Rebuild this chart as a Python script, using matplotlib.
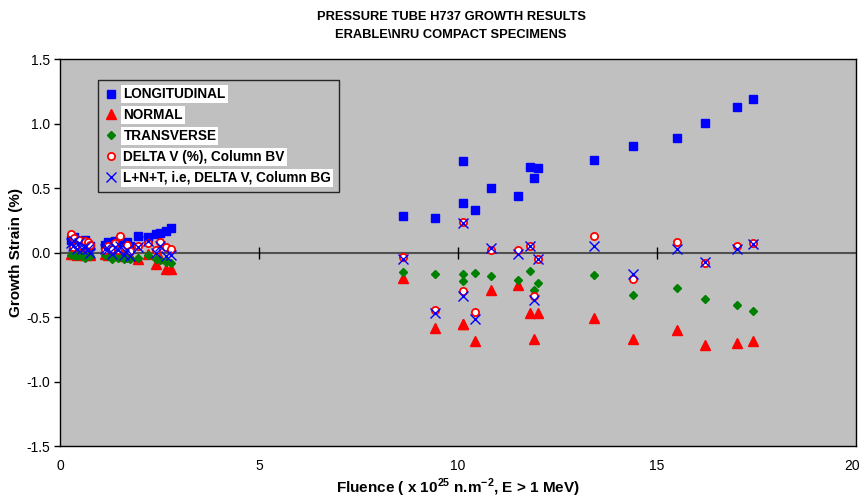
import matplotlib
matplotlib.use("Agg")
import matplotlib.pyplot as plt
from matplotlib.transforms import ScaledTranslation

plt.rcParams['font.family'] = ['Liberation Sans', 'DejaVu Sans']
plt.rcParams['mathtext.fontset'] = 'custom'
plt.rcParams['mathtext.rm'] = 'Liberation Sans'
plt.rcParams['mathtext.bf'] = 'Liberation Sans:bold'

# fluence (x 10^25 n/m2) per specimen
fluence = [0.28, 0.32, 0.36, 0.42, 0.48, 0.55, 0.62, 0.70, 0.75,
           1.12, 1.20, 1.30, 1.38, 1.45, 1.52, 1.60, 1.68, 1.75,
           1.96, 2.20, 2.40, 2.52, 2.66, 2.80,
           8.61, 9.42, 10.12, 10.12, 10.42, 10.82, 11.52, 11.81, 11.91, 12.02,
           13.41, 14.41, 15.51, 16.21, 17.01, 17.42]

longitudinal = [0.10, 0.06, 0.12, 0.08, 0.09, 0.07, 0.10, 0.06, 0.05,
                0.06, 0.08, 0.05, 0.09, 0.07, 0.10, 0.06, 0.08, 0.05,
                0.13, 0.12, 0.14, 0.15, 0.17, 0.19,
                0.285, 0.27, 0.71, 0.38, 0.326, 0.50, 0.44, 0.666, 0.577, 0.655,
                0.72, 0.826, 0.886, 1.005, 1.13, 1.19]

normal = [-0.01, 0.00, -0.01, -0.02, 0.00, -0.01, -0.02, -0.01, -0.02,
          -0.01, -0.02, -0.01, -0.02, -0.01, -0.02, -0.03, -0.02, -0.03,
          -0.05, -0.01, -0.09, -0.04, -0.13, -0.13,
          -0.197, -0.585, -0.554, -0.554, -0.686, -0.293, -0.25, -0.47, -0.668, -0.469,
          -0.507, -0.668, -0.598, -0.72, -0.70, -0.684]

transverse = [-0.02, -0.01, -0.02, -0.03, -0.02, -0.03, -0.04, -0.02, -0.03,
              -0.02, -0.03, -0.05, -0.03, -0.04, -0.03, -0.05, -0.04, -0.05,
              -0.04, -0.02, -0.05, -0.06, -0.07, -0.08,
              -0.153, -0.163, -0.163, -0.223, -0.155, -0.184, -0.21, -0.14, -0.293, -0.236,
              -0.176, -0.33, -0.275, -0.36, -0.41, -0.45]

delta_v_bv = [0.14, 0.04, 0.11, 0.06, 0.10, 0.05, 0.09, 0.08, 0.06,
              0.02, 0.05, 0.03, 0.07, 0.02, 0.13, 0.04, 0.06, 0.01,
              0.05, 0.07, 0.02, 0.08, 0.04, 0.03,
              -0.034, -0.443, 0.236, -0.30, -0.46, 0.02, 0.02, 0.054, -0.336, -0.049,
              0.13, -0.205, 0.08, -0.08, 0.049, 0.075]

lnt_bg = [0.07, 0.05, 0.09, 0.03, 0.07, 0.03, 0.04, 0.03, 0.00,
          0.03, 0.03, -0.01, 0.04, 0.02, 0.05, -0.02, 0.02, -0.03,
          0.04, 0.09, 0.00, 0.05, -0.03, -0.02,
          -0.049, -0.47, 0.225, -0.34, -0.515, 0.033, -0.008, 0.054, -0.37, -0.049,
          0.049, -0.163, 0.029, -0.075, 0.031, 0.065]

xticks = [0, 5, 10, 15, 20]
yticks = [-1.5, -1.0, -0.5, 0.0, 0.5, 1.0, 1.5]

fig = plt.figure(figsize=(8.61, 4.98), dpi=100)
ax = fig.add_axes([0.0697, 0.1044, 0.9243, 0.7771])
ax.set_facecolor('#C0C0C0')

ax.plot(fluence, longitudinal, 's', color='#0000FF', ms=5.5, mec='#0000FF',
        label='LONGITUDINAL', zorder=3)
ax.plot(fluence, normal, '^', color='#FF0000', ms=6.5, mec='#FF0000',
        label='NORMAL', zorder=3)
ax.plot(fluence, transverse, 'D', color='#008000', ms=4.5, mec='#008000',
        label='TRANSVERSE', zorder=3)
ax.plot(fluence, delta_v_bv, 'o', mfc='white', mec='#FF0000', mew=1.3, ms=5.2,
        label='DELTA V (%), Column BV', zorder=4)
ax.plot(fluence, lnt_bg, 'x', color='#0000FF', ms=6.5, mew=1.0,
        label='L+N+T, i.e, DELTA V, Column BG', zorder=5)

# axis line crossing at zero with Excel-style ticks
ax.axhline(0, color='#505050', lw=1.5, zorder=2)
ax.plot(xticks[1:-1], [0] * (len(xticks) - 2), ls='none', marker='|',
        color='black', ms=8, mew=1, zorder=2)

ax.set_xlim(0, 20)
ax.set_ylim(-1.5, 1.5)
ax.set_xticks(xticks)
ax.set_yticks(yticks)
ax.set_yticklabels([f'{v:.1f}' for v in yticks])
ax.tick_params(axis='x', length=0, pad=9, labelsize=10)
ax.tick_params(axis='y', length=4, direction='out', width=1, pad=3,
               labelsize=10)
# keep the last x label inside the figure edge
last = ax.get_xticklabels()[-1]
last.set_transform(last.get_transform() +
                   ScaledTranslation(-3 / 72, 0, fig.dpi_scale_trans))
for s in ax.spines.values():
    s.set_color('black')
    s.set_linewidth(1)

ax.set_xlabel(r'Fluence ( x 10$^{\mathbf{25}}$ n.m$^{\mathbf{-2}}$, E > 1 MeV)',
              fontsize=11, fontweight='bold', labelpad=3)
ax.set_ylabel('Growth Strain (%)', fontsize=11, fontweight='bold')
ax.yaxis.set_label_coords(-0.047, 0.5)

fig.text(0.524, 0.966, 'PRESSURE TUBE H737 GROWTH RESULTS', ha='center',
         va='center', fontsize=9.3, fontweight='bold')
fig.text(0.524, 0.930, 'ERABLE\\NRU COMPACT SPECIMENS', ha='center',
         va='center', fontsize=9.3, fontweight='bold')

leg = ax.legend(loc='upper left', bbox_to_anchor=(0.048, 0.946),
                borderaxespad=0, frameon=True, fancybox=False,
                facecolor='#C0C0C0', edgecolor='black', handlelength=0.8,
                handletextpad=0.5, labelspacing=0.5, borderpad=0.55,
                prop={'weight': 'bold', 'size': 9.8})
leg.get_frame().set_linewidth(1)
for t in leg.get_texts():
    t.set_bbox(dict(facecolor='white', edgecolor='none', pad=1.5))

fig.savefig('out.png', dpi=100)
